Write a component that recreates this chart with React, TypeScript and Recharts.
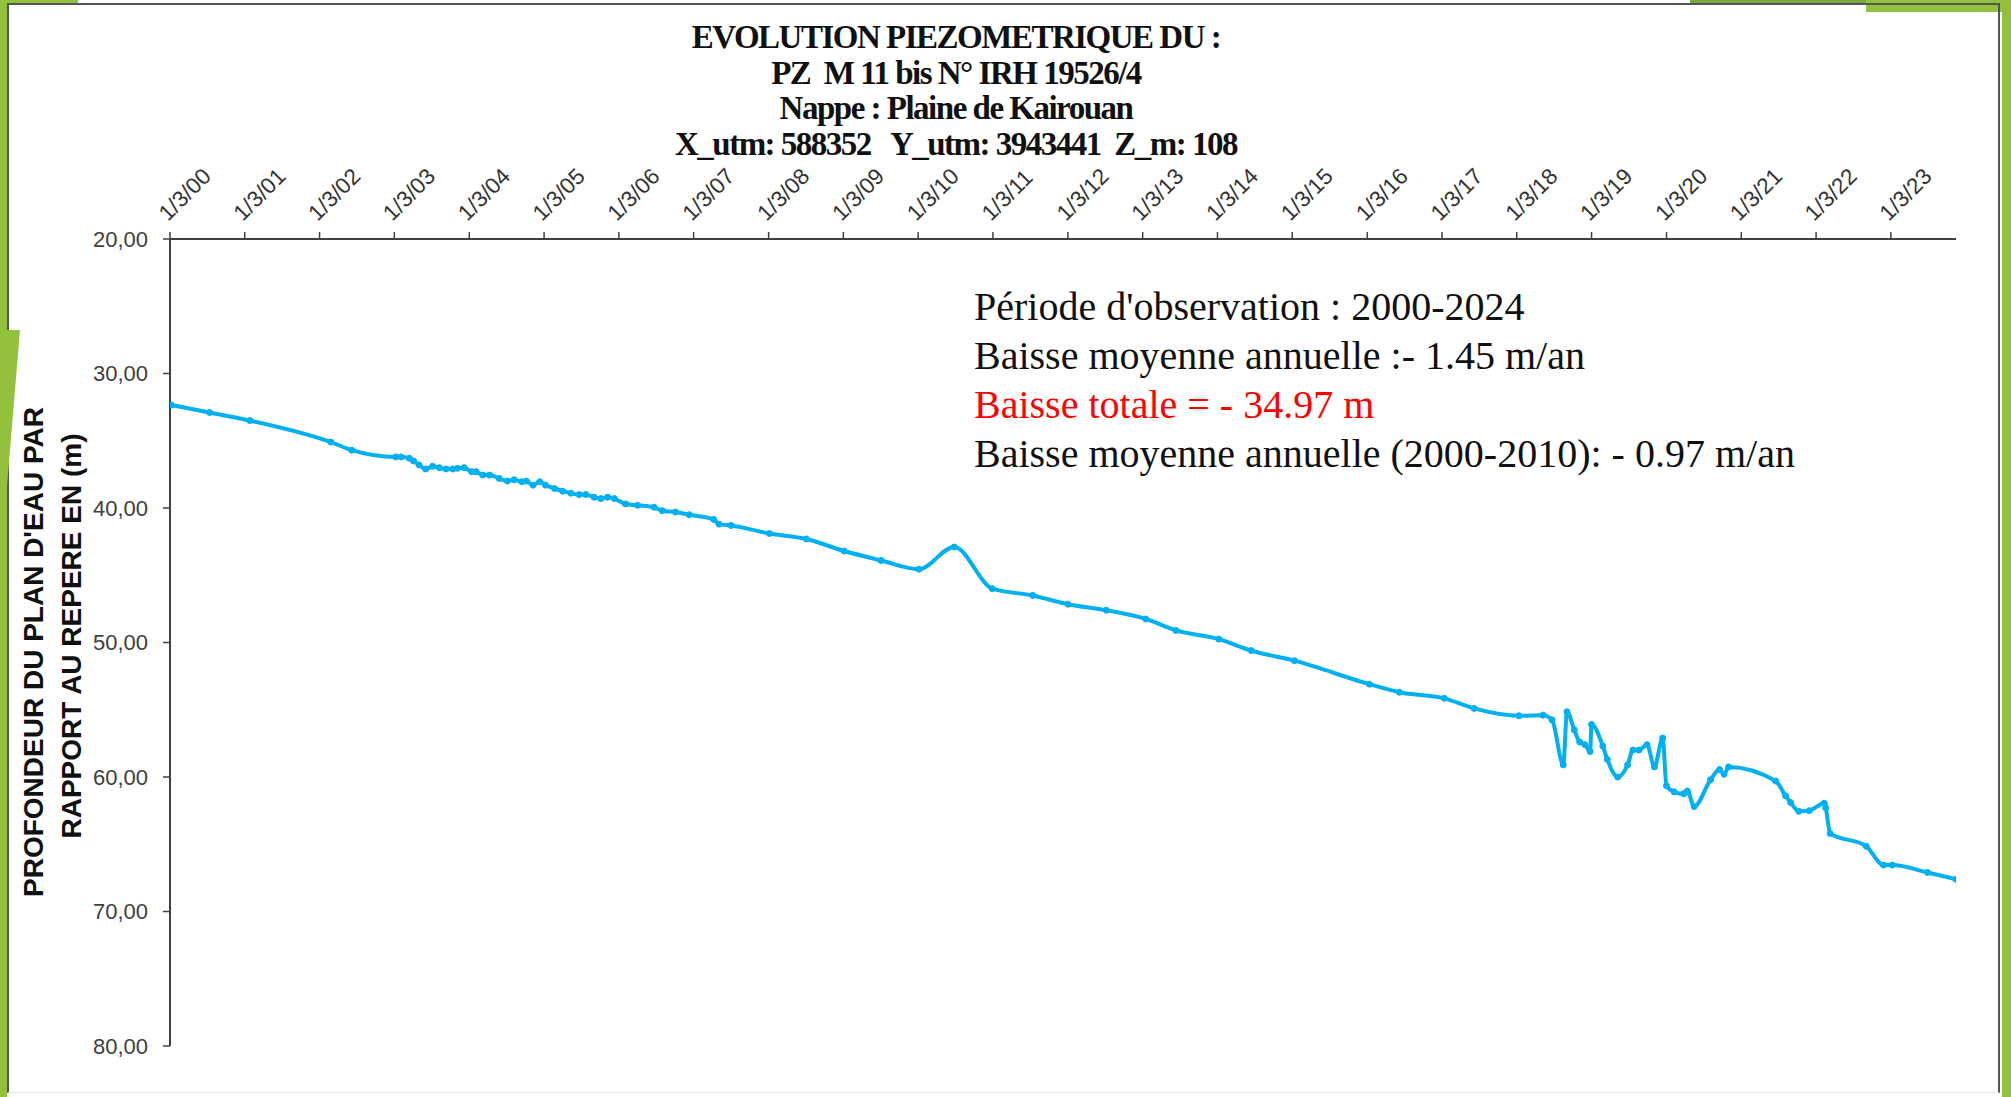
import React from 'react';
import { LineChart, Line, XAxis, YAxis } from 'recharts';

// relevés piézométriques (date, profondeur en m)
const obsDates = [
  '2000-03-08', '2000-09-10', '2001-03-26', '2002-04-25', '2002-08-05',
  '2003-03-08', '2003-04-03', '2003-05-13', '2003-06-03', '2003-06-30',
  '2003-08-01', '2003-09-04', '2003-10-07', '2003-11-09', '2003-12-12',
  '2004-01-03', '2004-02-05', '2004-03-12', '2004-04-03', '2004-05-06',
  '2004-06-08', '2004-07-25', '2004-09-03', '2004-10-06', '2004-11-12',
  '2004-12-04', '2005-01-06', '2005-02-08', '2005-03-08', '2005-04-21',
  '2005-05-31', '2005-07-10', '2005-08-19', '2005-09-21', '2005-10-31',
  '2005-12-03', '2006-01-05', '2006-02-07', '2006-04-03', '2006-05-31',
  '2006-08-20', '2006-09-29', '2006-12-03', '2007-02-07', '2007-06-07',
  '2007-07-03', '2007-08-31', '2008-03-05', '2008-09-01', '2009-03-05',
  '2009-09-01', '2010-03-05', '2010-08-24', '2011-02-26', '2011-09-11',
  '2012-03-01', '2012-09-04', '2013-03-16', '2013-08-10', '2014-03-08',
  '2014-08-13', '2015-03-12', '2016-03-12', '2016-08-05', '2017-03-12',
  '2017-08-05', '2018-03-12', '2018-07-07', '2018-08-20', '2018-10-14',
  '2018-11-01', '2018-12-07', '2019-01-02', '2019-01-28', '2019-02-22',
  '2019-03-01', '2019-04-25', '2019-05-17', '2019-07-07', '2019-08-24',
  '2019-09-19', '2019-10-18', '2019-11-27', '2020-01-02', '2020-02-11',
  '2020-03-01', '2020-04-07', '2020-05-24', '2020-06-11', '2020-07-14',
  '2020-10-02', '2020-11-15', '2020-12-07', '2020-12-29', '2021-08-16',
  '2021-10-03', '2021-10-28', '2021-12-07', '2022-01-27', '2022-04-10',
  '2022-04-17', '2022-05-09', '2022-11-01', '2023-01-24', '2023-03-08',
  '2023-08-27', '2024-01-13',
];

const depths = [
  32.35, 32.9, 33.5, 35.1, 35.7,
  36.2, 36.2, 36.3, 36.5, 36.8,
  37.1, 36.9, 37.0, 37.1, 37.1,
  37.05, 37.0, 37.3, 37.3, 37.55,
  37.55, 37.8, 38.0, 37.9, 38.05,
  38.0, 38.3, 38.05, 38.3, 38.55,
  38.75, 38.9, 39.0, 39.0, 39.2,
  39.3, 39.2, 39.3, 39.7, 39.8,
  39.95, 40.2, 40.3, 40.5, 40.85,
  41.2, 41.3, 41.9, 42.3, 43.2,
  43.9, 44.55, 42.9, 46.0, 46.5,
  47.15, 47.6, 48.25, 49.1, 49.75,
  50.6, 51.35, 53.1, 53.7, 54.15,
  54.9, 55.45, 55.4, 55.75, 59.1,
  55.15, 56.5, 57.4, 57.6, 58.1,
  56.1, 57.7, 58.7, 60.0, 59.1,
  58.0, 58.0, 57.6, 59.25, 57.1,
  60.65, 61.1, 61.25, 61.05, 62.2,
  60.2, 59.45, 59.8, 59.25, 60.3,
  61.4, 61.9, 62.55, 62.5, 61.95,
  62.3, 64.2, 65.15, 66.55, 66.55,
  67.1, 67.6,
];

const tickDates = [
  '2000-03-01', '2001-03-01', '2002-03-01', '2003-03-01', '2004-03-01',
  '2005-03-01', '2006-03-01', '2007-03-01', '2008-03-01', '2009-03-01',
  '2010-03-01', '2011-03-01', '2012-03-01', '2013-03-01', '2014-03-01',
  '2015-03-01', '2016-03-01', '2017-03-01', '2018-03-01', '2019-03-01',
  '2020-03-01', '2021-03-01', '2022-03-01', '2023-03-01',
];

const depthTicks = [20, 30, 40, 50, 60, 70, 80];

const titleLines = [
  'EVOLUTION PIEZOMETRIQUE DU :',
  'PZ  M 11 bis N° IRH 19526/4',
  'Nappe : Plaine de Kairouan',
  'X_utm: 588352   Y_utm: 3943441  Z_m: 108',
];

const noteLines = [
  { text: "Période d'observation : 2000-2024", color: '#111' },
  { text: 'Baisse moyenne annuelle :- 1.45 m/an', color: '#111' },
  { text: 'Baisse totale = - 34.97 m', color: '#ff0000' },
  { text: 'Baisse moyenne annuelle (2000-2010): - 0.97 m/an', color: '#111' },
];

const toTime = (d: string) => {
  const [y, m, day] = d.split('-').map(Number);
  return Date.UTC(y, m - 1, day);
};

const data = obsDates.map((d, i) => ({ t: toTime(d), depth: depths[i] }));
const xTicks = tickDates.map(toTime);

const fmtDate = (t: number) => {
  const d = new Date(t);
  return `${d.getUTCDate()}/${d.getUTCMonth() + 1}/${String(d.getUTCFullYear()).slice(2)}`;
};
const fmtDepth = (v: number) => v.toFixed(2).replace('.', ',');

const SANS = '"Liberation Sans", Arial, sans-serif';
const SERIF = '"Liberation Serif", "Times New Roman", serif';
const GREEN = '#93c13d';

const DateTick = (props: any) => {
  const { x, y, payload } = props;
  const px = x - 2;
  return (
    <text
      x={px}
      y={y}
      transform={`rotate(-45, ${px}, ${y})`}
      textAnchor="start"
      fontSize={22.5}
      fill="#333"
      fontFamily={SANS}
    >
      {fmtDate(payload.value)}
    </text>
  );
};

export default function App() {
  return (
    <div
      style={{
        position: 'absolute',
        left: 0,
        top: 0,
        width: 2011,
        height: 1097,
        background: '#fff',
        overflow: 'hidden',
      }}
    >
      {/* cadre de la diapositive */}
      <div style={{ position: 'absolute', left: 0, top: 0, width: 78, height: 4, background: GREEN }} />
      <div style={{ position: 'absolute', left: 1690, top: 0, width: 321, height: 4, background: '#7fa83a' }} />
      <div style={{ position: 'absolute', left: 1866, top: 0, width: 145, height: 12, background: GREEN }} />
      <div style={{ position: 'absolute', left: 0, top: 0, width: 7, height: 1097, background: GREEN }} />
      <div style={{ position: 'absolute', left: 2002, top: 0, width: 9, height: 1097, background: GREEN }} />
      <div
        style={{
          position: 'absolute',
          left: 7,
          top: 3,
          width: 1993,
          height: 1090,
          borderTop: '2px solid #555',
          borderLeft: '2px solid #555',
          borderRight: '2px solid #555',
          borderBottom: '1px solid #e4e4e4',
          boxSizing: 'border-box',
        }}
      />
      <div
        style={{
          position: 'absolute',
          left: 0,
          top: 330,
          width: 20,
          height: 240,
          background: GREEN,
          clipPath: 'polygon(0 0, 100% 0, 0 100%)',
        }}
      />

      <div style={{ position: 'absolute', left: 0, top: 0 }}>
        <LineChart
          width={2011}
          height={1097}
          data={data}
          margin={{ top: 139, right: 55, bottom: 51, left: 70 }}
        >
          <XAxis
            dataKey="t"
            type="number"
            orientation="top"
            domain={[xTicks[0], data[data.length - 1].t]}
            allowDataOverflow
            ticks={xTicks}
            interval={0}
            tick={<DateTick />}
            tickSize={7}
            tickMargin={10}
            height={100}
            axisLine={{ stroke: '#404040', strokeWidth: 2 }}
            tickLine={{ stroke: '#404040', strokeWidth: 1.5 }}
          />
          <YAxis
            type="number"
            domain={[20, 80]}
            reversed
            ticks={depthTicks}
            interval={0}
            tickFormatter={fmtDepth}
            width={100}
            tickSize={7}
            tickMargin={15}
            tick={{ fontSize: 22, fill: '#404040', fontFamily: SANS }}
            axisLine={{ stroke: '#404040', strokeWidth: 2 }}
            tickLine={{ stroke: '#404040', strokeWidth: 1.5 }}
          />
          <Line
            type="monotone"
            dataKey="depth"
            stroke="#00b0f0"
            strokeWidth={4}
            dot={{ r: 3, fill: '#00b0f0', stroke: '#00b0f0', strokeWidth: 1 }}
            isAnimationActive={false}
          />
        </LineChart>
      </div>

      <svg
        width={2011}
        height={1097}
        style={{ position: 'absolute', left: 0, top: 0, pointerEvents: 'none' }}
      >
        {titleLines.map((line, i) => (
          <text
            key={line}
            x={956}
            y={48 + i * 35.5}
            textAnchor="middle"
            fontFamily={SERIF}
            fontWeight="bold"
            fontSize={33}
            letterSpacing={-1.5}
            fill="#111"
            style={{ whiteSpace: 'pre' }}
          >
            {line}
          </text>
        ))}

        {noteLines.map((line, i) => (
          <text
            key={line.text}
            x={974}
            y={320 + i * 49}
            fontFamily={SERIF}
            fontSize={40}
            fill={line.color}
          >
            {line.text}
          </text>
        ))}

        <text
          transform="translate(43, 652) rotate(-90)"
          textAnchor="middle"
          fontFamily={SANS}
          fontWeight="bold"
          fontSize={28}
          fill="#111"
        >
          {"PROFONDEUR  DU PLAN D'EAU PAR"}
        </text>
        <text
          transform="translate(81, 636) rotate(-90)"
          textAnchor="middle"
          fontFamily={SANS}
          fontWeight="bold"
          fontSize={28}
          fill="#111"
        >
          RAPPORT AU REPERE EN (m)
        </text>
      </svg>
    </div>
  );
}
